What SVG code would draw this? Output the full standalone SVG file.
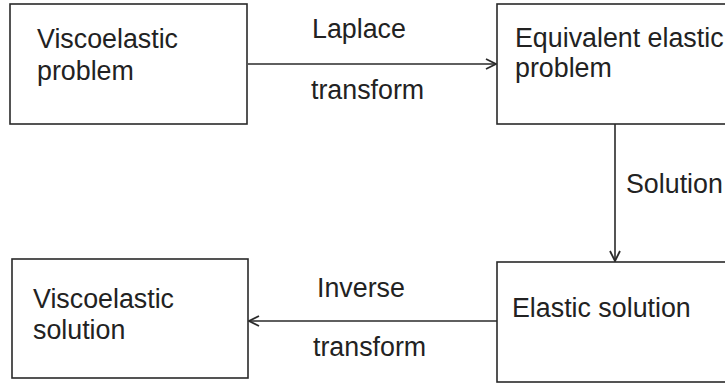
<svg xmlns="http://www.w3.org/2000/svg" width="725" height="383" viewBox="0 0 725 383">
  <style>
    .box { fill: #ffffff; stroke: #2a2a2a; stroke-width: 1.6; }
    .lbl { font-family: "Liberation Sans", Arial, sans-serif; font-size: 26.8px; fill: #222222; }
    .edge { fill: none; stroke: #2a2a2a; stroke-width: 1.6; }
  </style>
  <defs>
    <marker id="chev" viewBox="0 0 12 12" refX="11" refY="6" markerWidth="12" markerHeight="12" markerUnits="userSpaceOnUse" orient="auto">
      <path d="M1,1 L11,6 L1,11" fill="none" stroke="#2a2a2a" stroke-width="1.8"/>
    </marker>
  </defs>

  <rect width="725" height="383" fill="#ffffff"/>

  <g id="connectors">
    <line class="edge" x1="248" y1="64" x2="496" y2="64" marker-end="url(#chev)"/>
    <line class="edge" x1="615" y1="124" x2="615" y2="261" marker-end="url(#chev)"/>
    <line class="edge" x1="497" y1="321" x2="249" y2="321" marker-end="url(#chev)"/>
    <text class="lbl" x="312" y="38">Laplace</text>
    <text class="lbl" x="311" y="99">transform</text>
    <text class="lbl" x="626" y="193">Solution</text>
    <text class="lbl" x="317" y="297">Inverse</text>
    <text class="lbl" x="313" y="356">transform</text>
  </g>

  <g id="viscoelastic-problem">
    <rect class="box" x="10" y="4" width="237" height="120"/>
    <text class="lbl" x="37" y="48">Viscoelastic</text>
    <text class="lbl" x="37" y="80">problem</text>
  </g>

  <g id="equivalent-elastic-problem">
    <rect class="box" x="497" y="4" width="240" height="120"/>
    <text class="lbl" x="515" y="47">Equivalent elastic</text>
    <text class="lbl" x="515" y="77">problem</text>
  </g>

  <g id="elastic-solution">
    <rect class="box" x="497" y="262" width="240" height="120"/>
    <text class="lbl" x="512" y="317">Elastic solution</text>
  </g>

  <g id="viscoelastic-solution">
    <rect class="box" x="12" y="259" width="236" height="119"/>
    <text class="lbl" x="33" y="308">Viscoelastic</text>
    <text class="lbl" x="33" y="339">solution</text>
  </g>
</svg>
